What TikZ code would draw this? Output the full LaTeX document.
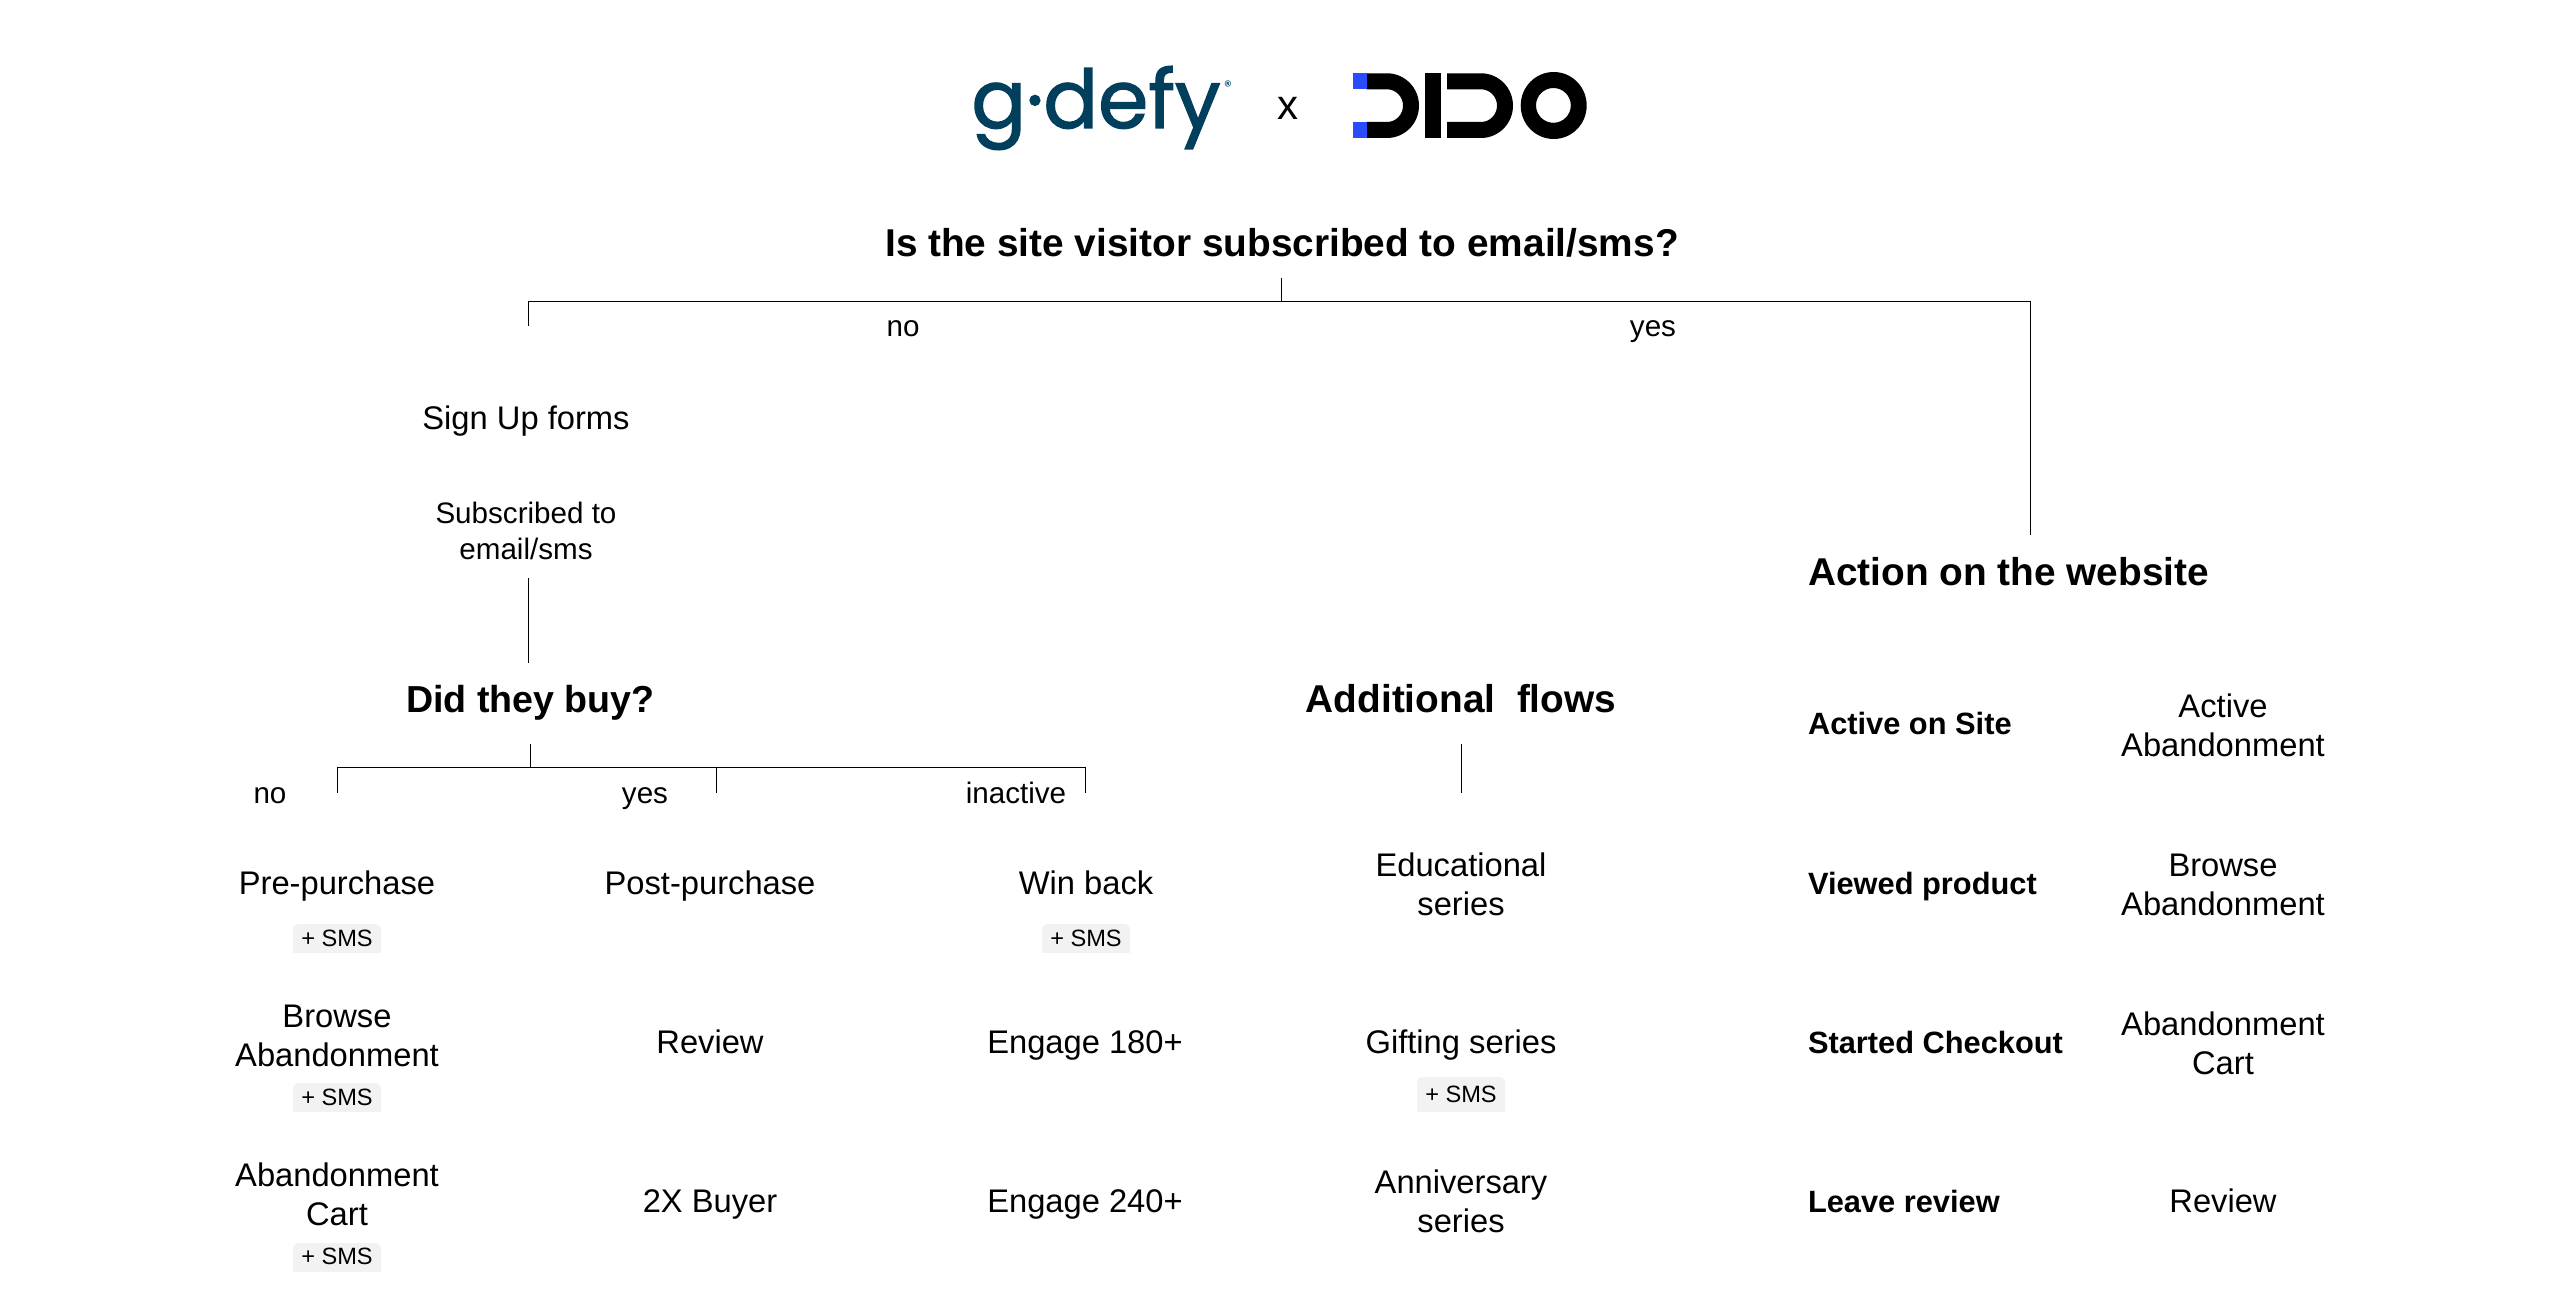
\documentclass[tikz,border=0pt]{standalone}
\usepackage{fontspec}
\setmainfont{Liberation Sans}
\newfontfamily\logofont[FakeBold=1.6]{Poppins}
\newfontfamily\logoplain{Poppins}
\definecolor{gdefyblue}{HTML}{023F5C}
\definecolor{didoblue}{HTML}{2B4BFF}
\definecolor{chipgray}{HTML}{F2F2F2}
\tikzset{
  every node/.style={inner sep=0pt,outer sep=0pt,text=black},
  wire/.style={draw=black,line width=0.7pt},
  wireh/.style={draw=black,line width=0.85pt},
  bighead/.style={font=\bfseries\fontsize{19.4}{23}\selectfont,anchor=base},
  buyhead/.style={font=\bfseries\fontsize{18.8}{23}\selectfont,anchor=base},
  actionhead/.style={font=\bfseries\fontsize{19.4}{23}\selectfont,anchor=base west},
  sidehead/.style={font=\bfseries\fontsize{15.4}{19}\selectfont,anchor=base west},
  flow/.style={font=\fontsize{16.35}{19.5}\selectfont,align=center,anchor=base},
  smallflow/.style={font=\fontsize{14.8}{18}\selectfont,align=center,anchor=base},
  chiptxt/.style={font=\fontsize{11.8}{14}\selectfont,anchor=base},
}
\newcommand{\chipat}[5]{% name, cx, top, bottom, baseline
  \fill[chipgray,rounded corners=3pt] (#2-44,#4+8) -- (#2-44,#3) -- (#2+44,#3) -- (#2+44,#4+8) -- cycle;
  \fill[white] (#2-46,#4) rectangle (#2+46,#4+10);
  \node[chiptxt] (#1) at (#2,#5) {+ SMS};
}
% one D-shaped stroke of the DIDO mark: left edge, centre of its bow
\newcommand{\didostroke}[2]{%
  \fill[black] (#1,73.3) -- (#2,73.3)
    .. controls (#2+17.7,73.3) and (#2+32,87.8) .. (#2+32,105.65)
    .. controls (#2+32,123.5) and (#2+17.7,138) .. (#2,138)
    -- (#1,138) -- (#1,122) -- (#2,122)
    .. controls (#2+8.8,122) and (#2+16,114.7) .. (#2+16,105.65)
    .. controls (#2+16,96.6) and (#2+8.8,89.3) .. (#2,89.3)
    -- (#1,89.3) -- cycle;
}
\begin{document}
\begin{tikzpicture}[x=0.5pt,y=-0.5pt]
\useasboundingbox (0,0) rectangle (2560,1315);
\fill[white] (0,0) rectangle (2560,1315);

% logos
\node[font=\logofont\fontsize{40.5}{50}\selectfont,text=gdefyblue,anchor=base] (gdefy) at (1096,128) {g·defy};
\node[font=\logoplain\fontsize{7.5}{8}\selectfont,text=gdefyblue] (gdefyr) at (1228,86) {®};
\node[font=\fontsize{21}{24}\selectfont,anchor=base] (times) at (1288,120) {x};
% DIDO mark
\didostroke{1366.7}{1387}
\fill[didoblue] (1352.7,73.3) rectangle (1366.7,89.3);
\fill[didoblue] (1352.7,122) rectangle (1366.7,138);
\fill[black] (1425,73.3) rectangle (1440.7,138);
\didostroke{1447}{1481}
\fill[black,even odd rule] (1553.7,105.5) circle [x radius=33,y radius=33.5] (1553.4,105.4) circle [x radius=17.4,y radius=17.4];

% top
\node[bighead] (root) at (1282,256.5) {Is the site visitor subscribed to email/sms?};
\node[smallflow] (rootno) at (903,336.5) {no};
\node[smallflow] (rootyes) at (1653,336.5) {yes};
\node[flow] (signup) at (526,430) {Sign Up forms};
\node[smallflow] (subscribed) at (526,559.5) {Subscribed to\\email/sms};
\node[buyhead] (buy) at (530.5,712.5) {Did they buy?};
\node[actionhead] (action) at (1808,585.5) {Action on the website};
\node[bighead] (additional) at (1461,712.5) {Additional\ \ flows};

% connectors
\coordinate (rootTick) at (1281.5,278);
\coordinate (rootJoin) at (1281.5,301.5);
\coordinate (rootL) at (528.5,301.5);
\coordinate (rootR) at (2030.5,301.5);
\coordinate (rootLend) at (528.5,326);
\coordinate (rootRend) at (2030.5,535);
\draw[wire] (rootTick) -- (rootJoin);
\draw[wireh] (rootL) -- (rootR);
\draw[wire] (rootLend) -- ([yshift=0.4pt]rootL);
\draw[wire] ([yshift=0.4pt]rootR) -- (rootRend);
\coordinate (subA) at (528.5,578);
\coordinate (subB) at (528.5,663);
\draw[wire] (subA) -- (subB);
\coordinate (buyTick) at (530.5,744);
\coordinate (buyJoin) at (530.5,767.5);
\coordinate (buyL) at (337.5,767.5);
\coordinate (buyM) at (716.5,767.5);
\coordinate (buyR) at (1085.5,767.5);
\coordinate (buyLend) at (337.5,793);
\coordinate (buyMend) at (716.5,793);
\coordinate (buyRend) at (1085.5,793);
\draw[wire] (buyTick) -- (buyJoin);
\draw[wireh] (buyL) -- (buyR);
\draw[wire] ([yshift=0.4pt]buyL) -- (buyLend);
\draw[wire] ([yshift=0.4pt]buyR) -- (buyRend);
\draw[wire] (buyM) -- (buyMend);
\coordinate (addA) at (1461.5,744);
\coordinate (addB) at (1461.5,793);
\draw[wire] (addA) -- (addB);

\node[smallflow] (no2) at (270,803) {no};
\node[smallflow] (yes2) at (645,803) {yes};
\node[smallflow] (inactive) at (1016,803) {inactive};

% column 1
\node[flow] (pre) at (337,894) {Pre-purchase};
\chipat{c1}{337}{924}{953}{946}
\node[flow] (browse) at (337,1066) {Browse\\Abandonment};
\chipat{c2}{337}{1083}{1112}{1105}
\node[flow] (aband) at (337,1225) {Abandonment\\Cart};
\chipat{c3}{337}{1243}{1272}{1264}
% column 2
\node[flow] (post) at (710,894) {Post-purchase};
\node[flow] (review) at (710,1053) {Review};
\node[flow] (buyer) at (710,1212.5) {2X Buyer};
% column 3
\node[flow] (win) at (1086,894) {Win back};
\chipat{c4}{1086}{924}{953}{946}
\node[flow] (e180) at (1085,1053) {Engage 180+};
\node[flow] (e240) at (1085,1212.5) {Engage 240+};
% column 4
\node[flow] (edu) at (1461,915) {Educational\\series};
\node[flow] (gift) at (1461,1053) {Gifting series};
\chipat{c5}{1461}{1077}{1112}{1102}
\node[flow] (anni) at (1461,1232) {Anniversary\\series};
% side
\node[sidehead] (s1) at (1808,734) {Active on Site};
\node[sidehead] (s2) at (1808,894) {Viewed product};
\node[sidehead] (s3) at (1808,1053) {Started Checkout};
\node[sidehead] (s4) at (1808,1212) {Leave review};
\node[flow] (r1) at (2223,756) {Active\\Abandonment};
\node[flow] (r2) at (2223,915) {Browse\\Abandonment};
\node[flow] (r3) at (2223,1074) {Abandonment\\Cart};
\node[flow] (r4) at (2223,1212.5) {Review};
\end{tikzpicture}
\end{document}
